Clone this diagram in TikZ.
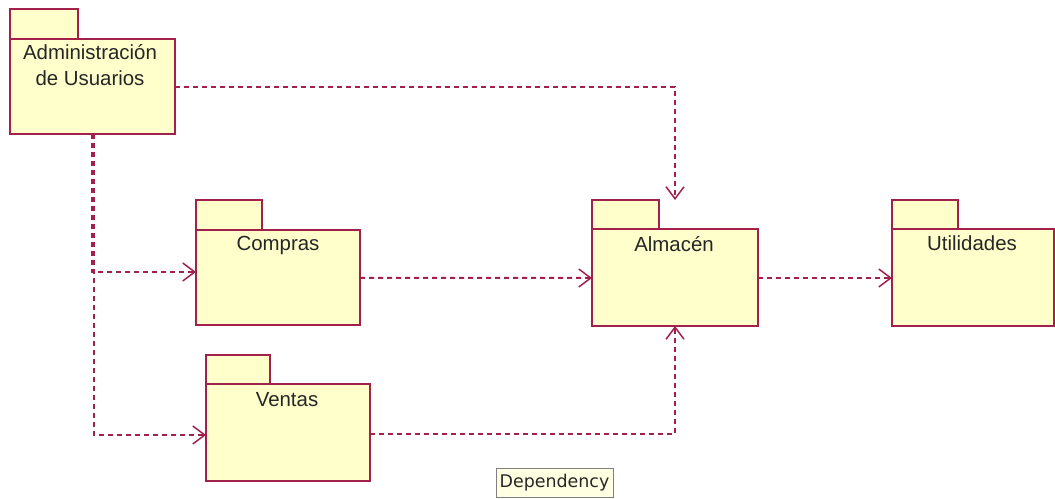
\documentclass[tikz,border=0pt]{standalone}
\usepackage{fontspec}
\setmainfont{Liberation Sans}
\newfontfamily\tipfont{DejaVu Sans}
\usetikzlibrary{arrows.meta,calc}
\definecolor{umlline}{RGB}{163,32,74}
\definecolor{umlfill}{RGB}{255,255,204}
\definecolor{tipfill}{RGB}{255,255,225}
\tikzset{
  pkgbox/.style={inner sep=0pt, outer sep=0pt},
  pkgline/.style={draw=umlline, fill=umlfill, line width=2bp},
  pkgtext/.style={font=\fontsize{20.5}{26}\selectfont, align=center, inner sep=0pt, anchor=north, text=black!85},
  dep/.style={draw=umlline, line width=2bp, dash pattern=on 5bp off 4bp, -{Straight Barb[length=12bp,width=18bp,line width=1.5bp]}},
  deplabel/.style={draw=black!50, fill=tipfill, line width=1bp, font=\tipfont\fontsize{17.5}{18}\selectfont, inner sep=0pt, minimum width=117bp, minimum height=29bp, text=black!85}
}
\newcommand{\pkgdraw}[3]{% name, tab width, tab height
  \draw[pkgline] (#1.north west) rectangle ($(#1.north west)+(#2,#3)$);
  \draw[pkgline] ($(#1.north west)+(0,#3)$) rectangle (#1.south east);
}
\begin{document}
\begin{tikzpicture}[x=1bp,y=-1bp]
\useasboundingbox (0,0) rectangle (1055,499);
% package frames
\node[pkgbox, minimum width=165bp, minimum height=125bp] (admin) at (92.5,71.5) {};
\node[pkgbox, minimum width=164bp, minimum height=125bp] (compras) at (278,262.5) {};
\node[pkgbox, minimum width=166bp, minimum height=126bp] (almacen) at (675,263) {};
\node[pkgbox, minimum width=162bp, minimum height=126bp] (util) at (973,263) {};
\node[pkgbox, minimum width=164bp, minimum height=126bp] (ventas) at (288,418) {};
\pkgdraw{admin}{68}{30}
\pkgdraw{compras}{66}{30}
\pkgdraw{almacen}{67}{29}
\pkgdraw{util}{66}{29}
\pkgdraw{ventas}{64}{29}
% labels
\node[pkgtext] (adminlbl) at (90,44) {Administración\\de Usuarios};
\node[pkgtext] (compraslbl) at (278,236) {Compras};
\node[pkgtext] (almacenlbl) at (674,236) {Almacén};
\node[pkgtext] (utillbl) at (972,236) {Utilidades};
\node[pkgtext] (ventaslbl) at (287,392) {Ventas};
% dependencies
\draw[dep] ($(admin.east)+(0,15.5)$) -| (almacen.north);
\draw[dep] ($(admin.south)+(-0.5,0)$) |- ($(compras.west)+(0,9.5)$);
\draw[dep] ($(admin.south)+(1.5,0)$) |- ($(ventas.west)+(0,17)$);
\draw[dep] ($(compras.east)+(0,15.5)$) -- ($(almacen.west)+(0,15)$);
\draw[dep] ($(ventas.east)+(0,16)$) -| (almacen.south);
\draw[dep] ($(almacen.east)+(0,15)$) -- ($(util.west)+(0,15)$);
% tooltip label
\node[deplabel] (deplbl) at (554.5,482.5) {Dependency};
\end{tikzpicture}
\end{document}
